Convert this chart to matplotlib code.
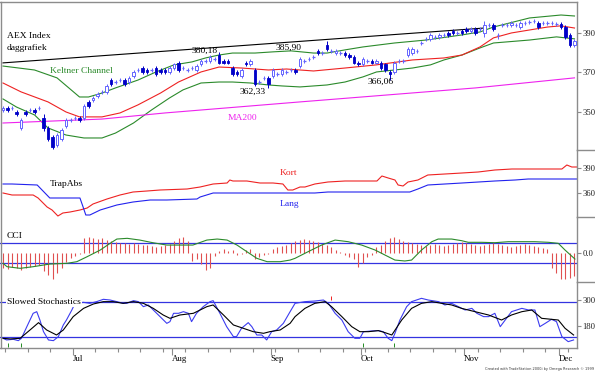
import numpy as np
import matplotlib
matplotlib.use("Agg")
import matplotlib.pyplot as plt
from matplotlib.lines import Line2D

plt.rcParams['font.family'] = ['Liberation Serif', 'DejaVu Serif']

# ---------------- price data (trading-day index 0..127) ----------------
opens = [351,352,352,350,342,350,351,351,352,347,
         342,337,333,336,343,346,347,347,347,355,
         356,358,360,360,366,365,366,366,365,368,
         371,372,371,371,372,371,371,370,372,375,
         372,371,372,371,374,376,376,377,379,376,
         376,372,370,368,375,374,371,365,367,367,
         368,369,369,370,371,371,373,376,377,378,
         381,380,384,381,380,380,380,379,378,375,
         374,376,376,375,375,374,370,370,376,376,
         379,380,381,385,387,387,388,388,389,390,
         391,390,391,392,391,392,392,390,394,394,
         389,394,394,394,394,393,395,395.5,396,395,
         395,395,395,394.5,394.5,393,389,384]
closes = [352,351,352,349,346,349,351,350,352,342,
          336,332,338,341,346,346,347,346,353,353,
          357,359,360,363,364,365,366,364,367,370,
          371,370,370,371,369,370,370,372,374,371,
          372,371,372,373,376,376,378,377,375,375,
          375,369,369,371,374,376,364,365,367,364,
          371,369,371,370,371,370,377,376,377,378,
          380,380,382,381,381,380,379,378,375,374,
          377,376,375,376,372,371,369,375,376,376,
          382,382,381,385,387,389,388,389,389,389,
          390,390,390,391,392,390,392,394,394,392,
          389,394,394,395,394,395,395,395.5,396,393,
          395,395,395,394.5,393,388,384,386]
highs = [353,353,353,351,347,351,352,352,353,349,
         343,338,339,342,347,347,348,348,354,356,
         358,360,361,364,367,366,367,367,368,371,
         372,373,372,372,373,372,372,373,375,376,
         373,372,373,374,377,377,379,378,380.2,377,
         377,373,371,372,376,377,372,366,368,368,
         372,370,372,371,372,372,378,377,378,379,
         382,381,385.9,382,382,381,381,380,379,376,
         378,377,377,377,376,375,371,376,377,377,
         383,383,382,386,388,390,389,390,390,391,
         392,391,392,393,393,393,393,396,395,395,
         390,395,395,396,395,396,396,396.5,397,396,
         396,396,396,395.5,395.5,394,390,387]
lows = [350,350,351,348,341,348,350,349,351,340,
        335,331,332,335,342,345,346,345,346,352,
        355,357,359,359,363,364,365,363,364,367,
        370,369,369,370,368,369,369,369,371,370,
        371,370,371,370,373,375,375,376,374,374,
        374,368,368,367,373,373,363,364,366,362.3,
        367,368,368,369,370,369,372,375,376,377,
        379,379,381,380,379,379,378,377,374,373,
        373,375,374,374,371,370,366.1,369,375,375,
        378,379,380,384,386,386,387,387,388,388,
        389,389,389,390,390,389,391,388,393,391,
        387,393,393,393,393,392,394,394.5,395,392,
        394,394,394,393.5,392,387,383,383]

# Keltner channel, MA200, trend line (day index, value)
upper_x = [0,7,12,17,19,22,25,30,34,38,42,45,48,51,56,60,64,69,72,76,80,87,94,102,106,109,117,124,127]
upper_v = [373.2,371.2,367.2,357.5,357.5,359.5,362.1,366.1,370.2,373.8,375.3,377.3,378.8,379.8,379.8,380.4,380.9,379.8,379.8,381.4,382.9,384.9,386.4,389.0,390.5,393.0,397.6,399.1,398.6]
mid_x = [0,4,10,14,17,22,26,30,35,39,44,48,53,59,63,69,76,83,91,98,102,106,109,113,117,121,124,127]
mid_v = [364.6,360.1,355.0,349.9,347.4,347.4,349.4,353.5,359.5,365.1,370.2,372.7,372.2,371.2,371.7,370.7,372.2,373.8,376.3,377.3,378.8,382.9,387.5,390.0,391.5,393.0,393.6,392.5]
lower_x = [0,3,7,10,14,18,22,25,29,33,37,40,44,48,51,55,59,62,66,72,76,80,83,87,91,95,98,102,106,109,117,123,127]
lower_v = [356.5,352.4,348.4,341.8,338.2,336.7,336.7,339.2,344.3,350.9,357.0,361.1,364.6,365.1,365.1,364.6,363.6,363.1,362.6,363.6,365.1,367.7,370.2,371.2,372.2,373.8,376.3,378.8,382.4,384.9,386.4,388.0,387.0]
ma200_x = [0,22,36,66,105,127]
ma200_v = [344.3,346.3,349.4,355.0,362.1,367.2]
trend_x = [0,107]
trend_v = [374.8,392.5]

# TrapAbs
kort_x = [0,2,6.7,7.8,9.8,10.9,12.2,13.3,14.9,17.1,18.7,20,23.1,26,28.9,32,34.9,40.9,43.8,46.7,
          49.8,50.4,51.1,54.2,57.1,60,62.2,63.3,64.4,66,67.1,69.3,72.2,76,79.8,83.1,84.2,85.6,87.1,87.8,
          88.9,90,92.2,94.4,98.2,102,105.6,109.3,113.1,116.7,120.4,124.2,125.3,126.4,127.6]
kort_v = [360,357.6,357.6,354,343.2,339.6,332.4,336,337.2,339.6,342,346.8,352.8,357.6,361.2,362.4,363.6,364.8,367.2,370.8,
          372,375.6,374.4,374.4,372,372,370.8,363.6,363.6,367.2,367.2,370.8,373.2,374.4,374.4,374.4,380.4,378,375.6,369.6,
          368.4,373.2,375.6,381.6,382.8,384,385.2,387.6,388.8,388.8,388.8,388.8,393.6,391.2,391.2]
lang_x = [0,2,7.6,10.4,17.1,17.8,18.4,19.3,21.6,25.3,28.9,32.7,36.4,43.1,43.8,46.7,66,69.3,72.2,83.3,90.4,92.2,94.4,102,109.3,113.8,116.7,127.6]
lang_v = [370.8,370.8,369.6,354.0,354.0,343.2,333.6,333.6,339.6,345.6,349.2,351.6,351.6,352.8,355.2,360.0,360.0,360.0,361.2,361.2,361.2,364.8,369.6,372.0,374.4,375.6,376.8,376.8]

# CCI
cci = [-150,-160,-140,-150,-170,-150,-140,-130,-120,-180,
       -220,-250,-200,-150,-90,-50,-30,-10,150,160,
       150,140,150,130,120,110,100,100,90,100,
       90,80,80,70,60,70,80,90,120,150,
       160,120,-80,-60,-110,-170,-150,-30,20,40,
       20,30,-20,-10,30,40,-60,-40,-20,-10,
       40,60,70,80,100,120,130,140,130,120,
       110,90,80,60,30,10,-20,-40,-60,-140,
       -100,-40,-20,60,80,120,150,160,140,120,
       110,100,90,80,70,80,90,80,70,80,
       90,100,110,100,90,80,70,80,90,100,
       90,80,70,60,70,80,90,80,70,60,
       50,40,-150,-200,-250,-250,-240,-230]
cci_avg_x = [0,0.9,3.8,6.7,10.4,14.2,16.4,18.7,21.6,23.8,25.3,27.6,30.4,33.3,36.4,39.3,42.2,45.3,47.6,49.8,52.0,54.2,56.4,58.7,61.6,63.8,
             64.9,67.8,70.8,73.8,76.7,79.7,82.7,84.9,87.1,89.3,90.8,93.0,95.3,96.7,99.7,101.9,103.4,106.4,109.3,112.3,115.3,118.2,121.2,123.4,124.9,127.1]
cci_avg_v = [-101,-134,-150,-134,-108,-101,-85,-36,29,95,137,144,127,101,78,78,78,127,137,127,78,13,-52,-85,-85,-69,
             -52,13,78,127,111,78,29,-20,-69,-78,-69,29,111,137,137,121,105,105,101,111,111,111,105,95,29,-59]

# Slowed stochastics
fast_x = [0,0.8,2.3,3.4,4.1,5.3,6.7,7.5,8.2,9.0,10.1,11.2,12.3,13.4,14.1,15.3,16.0,17.9,19.3,20.8,
          22.3,23.8,25.3,26.7,27.5,29.0,30.1,31.2,32.3,33.4,34.9,36.4,37.1,37.9,39.0,40.1,41.2,41.9,43.0,44.5,
          46.0,46.7,48.2,49.7,51.2,51.9,53.0,54.5,55.3,56.4,57.5,58.6,59.7,60.8,62.3,63.8,
          64.9,67.1,69.3,71.2,72.3,73.8,75.3,76.7,78.2,79.3,80.1,81.9,83.4,84.5,85.6,86.4,87.1,88.2,89.7,90.8,
          93.0,94.5,96.8,98.2,99.7,101.2,102.7,104.2,105.3,106.8,107.9,109.3,110.5,111.6,113.0,115.3,116.8,118.2,119.3,120.5,
          121.9,123.0,124.2,125.6,126.8]
fast_v = [17.7,14.9,16.0,13.7,17.7,37.7,60.6,63.4,49.1,29.1,14.9,13.7,20.6,40.6,49.1,66.3,77.7,79.4,77.7,80.6,
          84.6,83.4,80.6,77.7,77.7,82.3,80.6,72.0,74.9,66.3,54.9,43.4,46.3,60.6,60.6,63.4,60.6,46.3,60.6,72.0,
          80.6,82.3,60.6,37.7,20.6,20.6,34.9,44.6,37.7,23.4,23.4,14.9,29.1,32.0,43.4,63.4,
          77.7,80.6,81.7,83.4,77.7,60.6,49.1,29.1,17.7,17.7,29.1,30.3,30.9,29.1,17.7,13.7,26.3,49.1,72.0,80.6,
          86.3,83.4,80.6,74.9,77.7,72.0,66.3,69.1,60.6,54.9,54.9,60.6,37.7,49.1,63.4,69.1,66.3,66.3,37.7,43.4,
          50.3,46.3,20.6,12.0,14.9]
slow_x = [0,1.6,3.8,6.0,7.9,9.7,11.9,13.4,15.6,17.9,20.1,22.3,24.5,26.7,29.0,31.2,33.4,35.6,37.1,39.3,
          42.3,45.3,46.7,49.0,51.2,53.4,55.6,57.9,59.3,61.6,63.8,
          64.9,67.1,69.3,71.6,73.0,75.3,77.5,79.3,81.2,83.4,84.9,86.4,88.6,90.8,93.0,95.3,97.5,99.7,101.9,104.9,
          107.9,110.8,113.0,115.3,117.5,119.7,121.9,123.4,124.9,126.8]
slow_v = [17.7,16.6,17.7,32.0,44.6,32.0,23.4,32.0,54.9,69.1,76.6,80.6,80.6,77.7,80.6,77.7,69.1,57.7,52.0,57.7,
          60.6,72.0,74.9,57.7,40.6,34.9,29.1,26.3,29.1,32.0,43.4,
          54.9,69.1,77.7,80.6,72.0,54.9,37.7,29.1,29.1,30.9,27.4,23.4,49.1,69.1,77.7,80.6,77.7,74.9,69.1,63.4,
          57.7,49.1,57.7,63.4,66.3,52.0,50.3,49.1,34.9,23.4]
buy_signals = [1, 4, 80, 87]
sell_signals = [73]

months = ['Jul', 'Aug', 'Sep', 'Oct', 'Nov', 'Dec']
month_start = [16, 38, 60, 80, 103, 124]

# ---------------- figure ----------------
W, H = 595, 372
fig = plt.figure(figsize=(W / 100, H / 100), dpi=100)
GRAY = '#8c8c8c'
XR = 577

def rect(top, bottom):
    return [0.0, 1 - bottom / H, XR / W, (bottom - top) / H]

ax1 = fig.add_axes(rect(2, 150))
ax2 = fig.add_axes(rect(150, 217))
ax3 = fig.add_axes(rect(217, 282))
ax4 = fig.add_axes(rect(282, 348))

n = len(closes)
idx = np.arange(n)
for ax in (ax1, ax2, ax3, ax4):
    ax.set_xlim(-0.667, 127.556)
    for s in ('top', 'left', 'bottom'):
        ax.spines[s].set_visible(False)
    ax.spines['right'].set_color(GRAY)
    ax.spines['right'].set_linewidth(1.0)
    ax.yaxis.tick_right()
    ax.tick_params(axis='y', which='both', length=3, width=0.8, color=GRAY, pad=1,
                   labelsize=6.2, labelcolor='#222222')
    ax.set_xticks([])
    ax.patch.set_alpha(0)

# ---------- price panel ----------
ax1.set_ylim(330.6, 405.7)
ax1.set_yticks([350, 370, 390])
o = np.array(opens); c = np.array(closes); h = np.array(highs); l = np.array(lows)
DARK = '#0000c8'
LIGHT = '#6464ff'
down = c < o
up = c > o
doji = c == o
edge = np.where(down, DARK, LIGHT)
ax1.vlines(idx, l, h, colors=edge, lw=0.7, zorder=3)
bw = 0.6
ax1.bar(idx[down], (o - c)[down], bottom=c[down], width=bw, color=DARK, edgecolor=DARK, lw=0.6, zorder=4)
ax1.bar(idx[up], (c - o)[up], bottom=o[up], width=bw, facecolor='white', edgecolor=LIGHT, lw=0.7, zorder=4)
ax1.hlines(c[doji], idx[doji] - bw / 2, idx[doji] + bw / 2, colors=LIGHT, lw=0.9, zorder=4)

ax1.plot(trend_x, trend_v, color='black', lw=0.8, zorder=2)
ax1.plot(upper_x, upper_v, color='#2b8a2b', lw=0.8, zorder=2)
ax1.plot(lower_x, lower_v, color='#2b8a2b', lw=0.8, zorder=2)
ax1.plot(mid_x, mid_v, color='#ee2222', lw=0.8, zorder=2)
ax1.plot(ma200_x, ma200_v, color='#ee22ee', lw=0.8, zorder=2)

def ftext(x, y, s, **kw):
    fig.text(x / W, 1 - y / H, s, **kw)

ftext(7, 36, 'AEX Index', fontsize=6.8, va='center', ha='left')
ftext(7, 48, 'daggrafiek', fontsize=6.8, va='center', ha='left')
ftext(50, 71, 'Keltner Channel', fontsize=6.8, va='center', ha='left', color='#2b8a2b')
ftext(205, 51, '380,18', fontsize=6.8, va='center', ha='center')
ftext(289, 48, '385,90', fontsize=6.8, va='center', ha='center')
ftext(253, 92, '362,33', fontsize=6.8, va='center', ha='center')
ftext(381, 82, '366,06', fontsize=6.8, va='center', ha='center')
ftext(242, 118, 'MA200', fontsize=6.8, va='center', ha='center', color='#ee22ee')

# ---------- TrapAbs panel ----------
ax2.set_ylim(331.2, 411.6)
ax2.set_yticks([360, 390])
ax2.plot(kort_x, kort_v, color='#ee2222', lw=0.8)
ax2.plot(lang_x, lang_v, color='#2222ee', lw=0.8)
ftext(50, 184, 'TrapAbs', fontsize=6.8, va='center', ha='left')
ftext(280, 173, 'Kort', fontsize=6.8, va='center', ha='left', color='#ee2222')
ftext(280, 204, 'Lang', fontsize=6.8, va='center', ha='left', color='#2222ee')

# ---------- CCI panel ----------
ax3.set_ylim(-284, 353)
ax3.set_yticks([0])
ax3.set_yticklabels(['0.0'])
ax3.axhline(100, color='#3434e0', lw=0.9)
ax3.axhline(-100, color='#3434e0', lw=0.9)
ax3.vlines(idx, 0, cci, colors='#e05050', lw=0.8)
ax3.plot(cci_avg_x, cci_avg_v, color='#2b8a2b', lw=0.8)
ftext(7, 236, 'CCI', fontsize=6.8, va='center', ha='left',
      bbox=dict(facecolor='white', edgecolor='none', pad=0.5))

# ---------- Stochastics panel ----------
ax4.set_ylim(1.1, 114.3)
ax4.set_yticks([38.8, 83.4])
ax4.set_yticklabels(['180', '300'])
ax4.axhline(80, color='#3434e0', lw=0.9)
ax4.axhline(20, color='#3434e0', lw=0.9)
ax4.plot(fast_x, fast_v, color='#3c3cf0', lw=0.8)
ax4.plot(slow_x, slow_v, color='black', lw=0.8)
ax4.vlines(buy_signals, 3, 10, colors='#228b22', lw=0.7)
ax4.vlines(sell_signals, 83, 90, colors='#ee2222', lw=0.7)
ftext(7, 302, 'Slowed Stochastics', fontsize=6.8, va='center', ha='left',
      bbox=dict(facecolor='white', edgecolor='none', pad=0.5))

ax4.spines['bottom'].set_visible(True)
ax4.spines['bottom'].set_color(GRAY)
ax4.spines['bottom'].set_linewidth(1.0)
ax4.set_xticks([m - 0.5 for m in month_start])
ax4.set_xticklabels(months)
for t in ax4.get_xticklabels():
    t.set_ha('left')
ax4.set_xticks(np.arange(0.5, n, 5), minor=True)
ax4.tick_params(axis='x', which='major', length=5, width=0.8, color=GRAY, labelsize=6.4, pad=0)
ax4.tick_params(axis='x', which='minor', length=3, width=0.8, color=GRAY)

# frame lines
for yy in (150, 217, 282):
    fig.add_artist(Line2D([XR / W, 1], [1 - yy / H] * 2, color=GRAY, lw=1.0))
fig.add_artist(Line2D([0.5 / W] * 2, [1 - 2 / H, 1 - 348 / H], color=GRAY, lw=1.0))
fig.add_artist(Line2D([0, XR / W], [1 - 1.5 / H] * 2, color=GRAY, lw=1.0))

ftext(594, 369, 'Created with TradeStation 2000i by Omega Research \u00a9 1999', fontsize=2.5,
      ha='right', va='center', family='DejaVu Sans', color='#333333')

fig.savefig('out.png', dpi=100)
